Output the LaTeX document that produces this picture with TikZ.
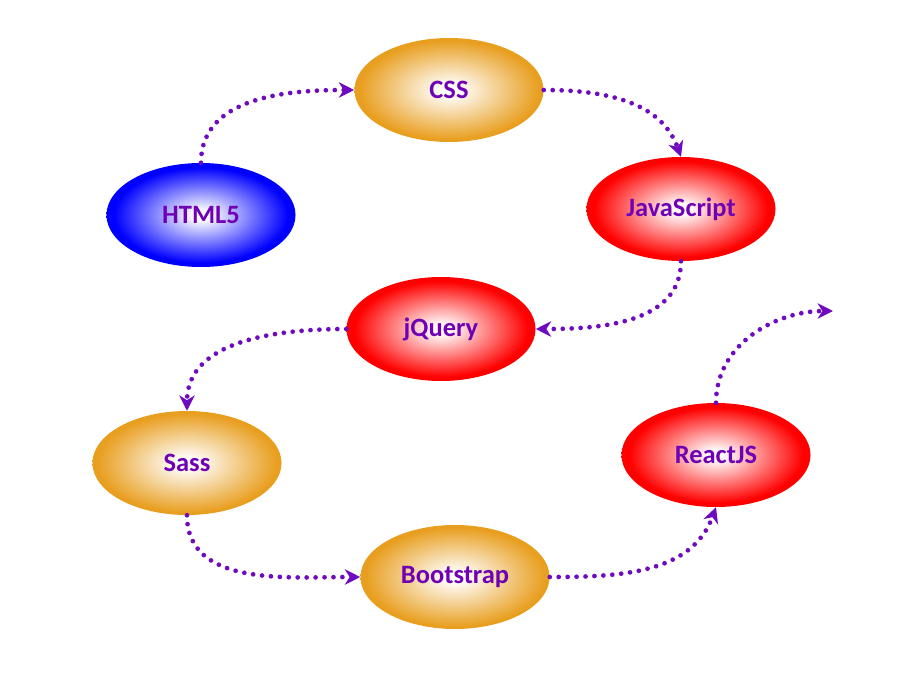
\documentclass[tikz,border=0pt]{standalone}
\usepackage{fontspec}
\setmainfont{Carlito}
\usetikzlibrary{arrows.meta,shapes.geometric}
\definecolor{orangeedge}{HTML}{E89E1E}
\definecolor{txtpurple}{HTML}{7000B4}
\definecolor{arrpurple}{HTML}{6E0AC0}
\pgfdeclareradialshading{orangerad}{\pgfpoint{0bp}{0bp}}{color(0bp)=(white); color(3bp)=(white!96!orangeedge); color(24bp)=(orangeedge); color(50bp)=(orangeedge)}
\pgfdeclareradialshading{redrad}{\pgfpoint{0bp}{0bp}}{color(0bp)=(white); color(3bp)=(white!96!red); color(23bp)=(red); color(50bp)=(red)}
\pgfdeclareradialshading{bluerad}{\pgfpoint{0bp}{0bp}}{color(0bp)=(white); color(3bp)=(white!96!blue); color(23bp)=(blue); color(50bp)=(blue)}
\tikzset{
  topic/.style={ellipse, minimum width=160.7pt, minimum height=88.4pt, inner sep=0pt,
    font=\fontsize{22.5}{26}\selectfont\bfseries, text=txtpurple},
  orangetopic/.style={topic, shading=orangerad},
  redtopic/.style={topic, shading=redrad},
  bluetopic/.style={topic, shading=bluerad},
  flow/.style={draw=arrpurple, line width=4pt, line cap=round, dash pattern=on 0pt off 7.6pt,
    -{Stealth[length=13pt,width=13pt,inset=4pt]}},
}
\begin{document}
\begin{tikzpicture}[x=0.85pt,y=-0.85pt]
\useasboundingbox (0,0) rectangle (900,675);
\node[bluetopic]   (html)  at (201,215) {HTML5};
\node[orangetopic] (css)   at (449,90)  {CSS};
\node[redtopic]    (js)    at (681,209) {JavaScript};
\node[redtopic]    (jq)    at (441,329) {jQuery};
\node[orangetopic] (sass)  at (187,463) {Sass};
\node[orangetopic] (boot)  at (455,577) {Bootstrap};
\node[redtopic]    (react) at (716,455) {ReactJS};
\coordinate (free) at (833,311);
\draw[flow] (html.north) to[out=90,in=180] (css.west);
\draw[flow] (css.east) to[out=0,in=110] (js.north);
\draw[flow] (js.south) to[out=-90,in=0] (jq.east);
\draw[flow] (jq.west) to[out=180,in=90] (sass.north);
\draw[flow] (sass.south) to[out=-90,in=180] (boot.west);
\draw[flow] (boot.east) to[out=0,in=-110] (react.south);
\draw[flow] (react.north) to[out=90,in=180] (free);
\end{tikzpicture}
\end{document}
